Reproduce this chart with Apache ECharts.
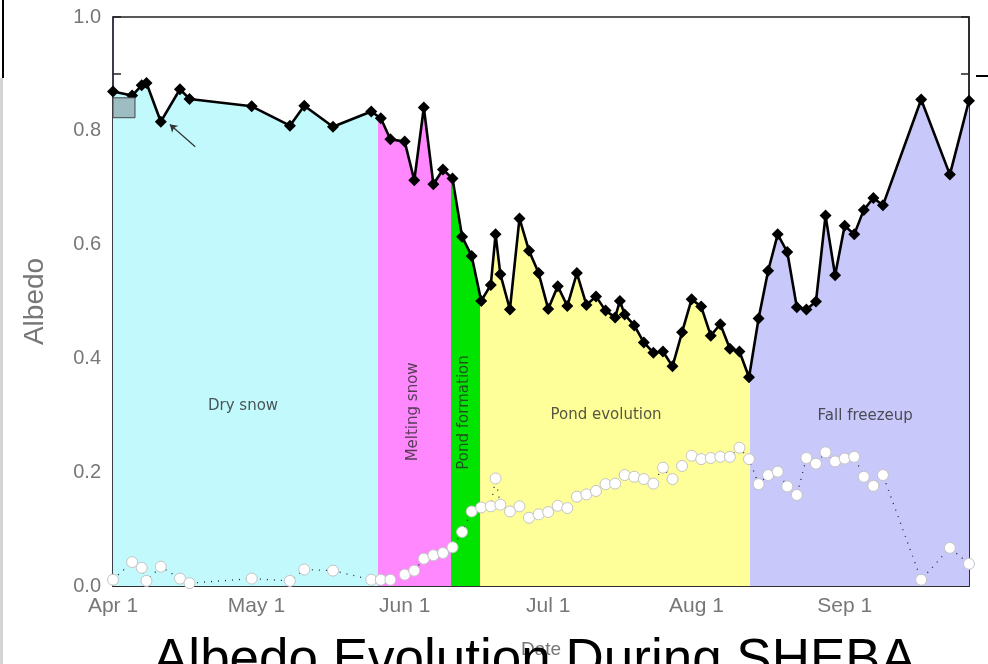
<!DOCTYPE html>
<html>
<head>
<meta charset="utf-8">
<script src="https://cdn.jsdelivr.net/npm/echarts@6/dist/echarts.min.js"></script>
<style>
html,body{margin:0;padding:0;background:#fff;}
#chart{width:988px;height:664px;}
</style>
</head>
<body>
<div id="chart"></div>
<script>
// ---- data (day index: 0 = Apr 1, 1998) ----
const monthTickDays = [0, 30, 61, 91, 122, 153];
const monthTickLabels = ['Apr 1', 'May 1', 'Jun 1', 'Jul 1', 'Aug 1', 'Sep 1'];
const yTickValues = [0, 0.2, 0.4, 0.6, 0.8, 1.0];

const albedoDays = [0, 4, 6, 7, 10, 14, 16, 29, 37, 40, 46, 54, 56, 58, 61, 63, 65, 67, 69, 71,
  73, 75, 77, 79, 80, 81, 83, 85, 87, 89, 91, 93, 95, 97, 99, 101, 103, 105, 106, 107,
  109, 111, 113, 115, 117, 119, 121, 123, 125, 127, 129, 131, 133, 135, 137, 139, 141, 143, 145, 147,
  149, 151, 153, 155, 157, 159, 161, 169, 175, 179];
const albedoValues = [0.869, 0.862, 0.880, 0.884, 0.816, 0.873, 0.856, 0.843, 0.809, 0.844, 0.807, 0.834, 0.822, 0.785, 0.781, 0.713, 0.841, 0.706, 0.732, 0.716,
  0.614, 0.580, 0.501, 0.529, 0.618, 0.548, 0.486, 0.646, 0.589, 0.550, 0.487, 0.527, 0.492, 0.550, 0.494, 0.509, 0.484, 0.472, 0.501, 0.477,
  0.458, 0.428, 0.410, 0.412, 0.386, 0.446, 0.504, 0.491, 0.440, 0.460, 0.417, 0.412, 0.367, 0.470, 0.554, 0.618, 0.587, 0.490, 0.486, 0.500,
  0.651, 0.546, 0.633, 0.618, 0.661, 0.682, 0.669, 0.855, 0.723, 0.853];

const pondDays = [0, 4, 6, 7, 10, 14, 16, 29, 37, 40, 46, 54, 56, 58, 61, 63, 65, 67, 69, 71,
  73, 75, 77, 79, 80, 81, 83, 85, 87, 89, 91, 93, 95, 97, 99, 101, 103, 105, 107, 109,
  111, 113, 115, 117, 119, 121, 123, 125, 127, 129, 131, 133, 135, 137, 139, 141, 143, 145, 147, 149,
  151, 153, 155, 157, 159, 161, 169, 175, 179];
const pondValues = [0.011, 0.042, 0.032, 0.009, 0.034, 0.013, 0.005, 0.013, 0.009, 0.029, 0.027, 0.011, 0.011, 0.011, 0.020, 0.027, 0.048, 0.054, 0.058, 0.068,
  0.095, 0.131, 0.138, 0.140, 0.189, 0.143, 0.131, 0.140, 0.120, 0.126, 0.130, 0.141, 0.137, 0.157, 0.161, 0.167, 0.179, 0.180, 0.195, 0.192,
  0.188, 0.180, 0.208, 0.188, 0.211, 0.229, 0.223, 0.225, 0.227, 0.227, 0.243, 0.223, 0.179, 0.195, 0.201, 0.175, 0.160, 0.225, 0.215, 0.235,
  0.219, 0.224, 0.227, 0.192, 0.176, 0.195, 0.011, 0.067, 0.039];

const phaseNames = ['Dry snow', 'Melting snow', 'Pond formation', 'Pond evolution', 'Fall freezeup'];
const phaseStartDays = [0, 55.4, 70.7, 76.7, 133.3];
const phaseEndDays = [55.4, 70.7, 76.7, 133.3, 179];
// label anchor (day, albedo) for each phase name
const phaseLabelDays = [27.2, 62.8, 73.4, 103.1, 157.3];
const phaseLabelValues = [0.317, 0.306, 0.305, 0.301, 0.298];
const phaseLabelVertical = [false, true, true, false, false];

// ---- styles ----
const phaseColors = ['#c2f9fd', '#ff88ff', '#00e400', '#ffff99', '#c8c8fa'];
const FONT = '"Liberation Sans", Arial, sans-serif';
const LABEL_FONT = '"DejaVu Sans", "Liberation Sans", sans-serif';

const albedoPairs = albedoDays.map((d, i) => [d, albedoValues[i]]);
const pondPairs = pondDays.map((d, i) => [d, pondValues[i]]);

const chart = echarts.init(document.getElementById('chart'), null, { renderer: 'canvas' });

const option = {
  animation: false,
  backgroundColor: '#ffffff',
  textStyle: { fontFamily: FONT },
  title: {
    text: 'Albedo Evolution During SHEBA',
    left: 148,
    top: 630,
    textStyle: { fontSize: 53, fontWeight: 'normal', color: '#000', fontFamily: FONT }
  },
  grid: {
    left: 113, right: 19, top: 17, bottom: 76,
    show: true, borderColor: '#222', borderWidth: 1.5, backgroundColor: 'transparent'
  },
  visualMap: {
    show: false,
    type: 'piecewise',
    seriesIndex: 0,
    dimension: 0,
    pieces: phaseStartDays.map((s, i) => ({ gte: s, lt: phaseEndDays[i] + (i === phaseStartDays.length - 1 ? 1 : 0), color: phaseColors[i] }))
  },
  xAxis: {
    type: 'value',
    min: 0,
    max: 179,
    name: 'Date',
    nameLocation: 'middle',
    nameGap: 54,
    nameTextStyle: { color: '#777', fontSize: 19, fontFamily: FONT },
    splitLine: { show: false },
    axisLine: { show: true, lineStyle: { color: '#222', width: 1.5 } },
    axisTick: { show: true, inside: true, length: 9, customValues: monthTickDays, lineStyle: { color: '#222', width: 1.5 } },
    axisLabel: {
      customValues: monthTickDays,
      margin: 10,
      color: '#777',
      fontSize: 21,
      formatter: v => monthTickLabels[monthTickDays.indexOf(Math.round(v))] || ''
    }
  },
  yAxis: [{
    type: 'value',
    min: 0, max: 1, interval: 0.2,
    name: 'Albedo',
    nameLocation: 'middle',
    nameGap: 64,
    nameRotate: 90,
    nameTextStyle: { color: '#777', fontSize: 28, fontFamily: FONT },
    splitLine: { show: false },
    axisLine: { show: true, lineStyle: { color: '#334', width: 1.5 } },
    axisTick: { show: true, inside: true, length: 8, lineStyle: { color: '#222', width: 1.5 } },
    minorTick: { show: true, splitNumber: 2, length: 8, lineStyle: { color: '#222', width: 1.5 } },
    axisLabel: { color: '#777', fontSize: 20, margin: 12, formatter: v => v.toFixed(1) }
  }, {
    type: 'value',
    position: 'right',
    min: 0, max: 1, interval: 0.2,
    splitLine: { show: false },
    axisLine: { show: true, lineStyle: { color: '#222', width: 1.5 } },
    axisTick: { show: true, inside: true, length: 8, lineStyle: { color: '#222', width: 1.5 } },
    minorTick: { show: true, splitNumber: 2, length: 8, lineStyle: { color: '#222', width: 1.5 } },
    axisLabel: { show: false }
  }],
  series: [
    {
      name: 'phase fill',
      type: 'line',
      data: albedoPairs,
      showSymbol: false,
      symbol: 'none',
      lineStyle: { width: 0 },
      areaStyle: { opacity: 1 },
      silent: true,
      z: 1
    },
    {
      name: 'Albedo',
      type: 'line',
      data: albedoPairs,
      symbol: 'diamond',
      symbolSize: 12,
      lineStyle: { color: '#000', width: 2.6 },
      itemStyle: { color: '#000' },
      z: 4,
      markArea: {
        silent: true,
        z: 6,
        itemStyle: { color: '#9dbdc2', borderColor: '#444', borderWidth: 1, opacity: 1 },
        data: [[{ xAxis: 0, yAxis: 0.858 }, { xAxis: 4.6, yAxis: 0.823 }]]
      },
      markLine: {
        silent: true,
        symbol: ['arrow', 'none'],
        symbolSize: 7,
        label: { show: false },
        lineStyle: { color: '#333', width: 1.2, type: 'solid' },
        data: [[{ coord: [11.9, 0.811] }, { coord: [17.2, 0.772] }]]
      }
    },
    {
      name: 'Pond',
      type: 'line',
      data: pondPairs,
      symbol: 'circle',
      symbolSize: 11,
      lineStyle: { color: '#223', width: 1.3, type: [1, 6] },
      itemStyle: { color: '#ffffff', borderColor: '#c4c4c4', borderWidth: 1 },
      z: 3
    },
    {
      name: 'phase labels',
      type: 'scatter',
      symbolSize: 1,
      itemStyle: { color: 'rgba(0,0,0,0)' },
      silent: true,
      z: 5,
      data: phaseNames.map((n, i) => ({
        name: n,
        value: [phaseLabelDays[i], phaseLabelValues[i]],
        label: {
          show: true,
          position: 'inside',
          rotate: phaseLabelVertical[i] ? 90 : 0,
          formatter: n,
          color: '#2a2a2a',
          fontSize: 15,
          fontFamily: LABEL_FONT
        }
      }))
    }
  ],
  graphic: [
    { type: 'rect', left: 0, top: 78, shape: { width: 3, height: 586 }, style: { fill: '#d4d4d4' }, silent: true },
    { type: 'line', shape: { x1: 3, y1: 0, x2: 3, y2: 78 }, style: { stroke: '#000', lineWidth: 2 }, silent: true },
    { type: 'line', shape: { x1: 976, y1: 76, x2: 988, y2: 76 }, style: { stroke: '#000', lineWidth: 2 }, silent: true }
  ]
};

chart.setOption(option);
</script>
</body>
</html>
